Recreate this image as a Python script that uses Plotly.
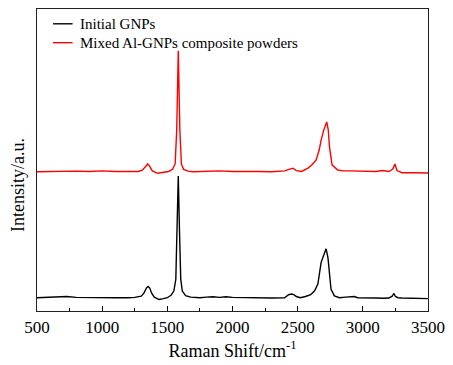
import plotly.graph_objects as go

# Raman shift (cm^-1) and intensity (a.u., stacked) for the initial GNPs
gnp_shift = [500, 600, 700, 728, 800, 900, 1000, 1100, 1200, 1250, 1300, 1320, 1340, 1353, 1365,
             1380, 1400, 1437, 1470, 1500, 1530, 1550, 1565, 1575, 1584, 1593, 1603, 1615, 1640,
             1680, 1750, 1800, 1850, 1900, 1950, 2000, 2100, 2200, 2300, 2400, 2430, 2452, 2470,
             2490, 2520, 2560, 2600, 2630, 2655, 2680, 2700, 2718, 2732, 2744, 2756, 2782, 2820,
             2870, 2900, 2934, 2960, 3000, 3100, 3150, 3200, 3225, 3239, 3250, 3270, 3300, 3400, 3500]
gnp_int = [44, 45, 46, 48, 45, 44, 45, 44, 44, 45, 49, 59, 76, 81, 76,
           59, 46, 38, 41, 44, 53, 66, 105, 270, 447, 270, 105, 66, 51,
           46, 44, 46, 47, 45, 47, 45, 44, 43, 43, 44, 54, 56, 54,
           48, 44, 48, 54, 67, 89, 161, 188, 206, 178, 128, 72, 50, 44,
           46, 48, 48, 44, 43, 43, 42, 43, 49, 58, 48, 44, 43, 42, 41]

# Raman shift (cm^-1) and intensity (a.u., stacked) for the mixed Al-GNPs powders
mix_shift = [500, 600, 700, 800, 900, 1000, 1100, 1200, 1280, 1310, 1330, 1350, 1365, 1385, 1426,
             1470, 1510, 1540, 1560, 1572, 1584, 1596, 1608, 1625, 1660, 1700, 1800, 1900, 2000,
             2100, 2200, 2300, 2400, 2440, 2464, 2490, 2530, 2579, 2610, 2642, 2665, 2680, 2700,
             2723, 2735, 2744, 2764, 2807, 2850, 2900, 3000, 3100, 3150, 3200, 3230, 3246, 3262,
             3300, 3400, 3500]
mix_int = [461, 462, 464, 463, 462, 464, 462, 463, 462, 467, 479, 487, 479, 464, 456,
           459, 462, 469, 487, 599, 862, 599, 487, 469, 463, 461, 463, 464, 462,
           463, 462, 461, 464, 470, 473, 465, 462, 473, 484, 500, 533, 566, 599,
           626, 599, 544, 484, 467, 464, 464, 463, 462, 465, 462, 470, 487, 465,
           458, 458, 457]

series_names = ["Initial GNPs", "Mixed Al-GNPs composite powders"]
series_colors = ["black", "#ff0000"]

x_ticks = [500, 1000, 1500, 2000, 2500, 3000, 3500]

font_family = "Times New Roman"

fig = go.Figure()
for xs, ys, name, color in zip([gnp_shift, mix_shift], [gnp_int, mix_int], series_names, series_colors):
    fig.add_trace(go.Scatter(x=xs, y=ys, mode="lines", name=name,
                             line=dict(color=color, width=1.4), showlegend=False))

# compact legend in the upper-left corner: short line sample + label per series
legend_shapes, legend_notes = [], []
for i, (name, color) in enumerate(zip(series_names, series_colors)):
    ly = 0.951 - i * 0.0625
    legend_shapes.append(dict(type="line", xref="paper", yref="paper",
                              x0=0.041, x1=0.091, y0=ly, y1=ly,
                              line=dict(color=color, width=1.4)))
    legend_notes.append(dict(text=name, xref="paper", yref="paper", x=0.106, y=ly,
                             xanchor="left", yanchor="middle", showarrow=False,
                             font=dict(size=15, family=font_family, color="black")))

fig.update_layout(
    width=453, height=365,
    margin=dict(l=37, r=22, t=8, b=53),
    paper_bgcolor="white", plot_bgcolor="white",
    font=dict(family=font_family, color="black", size=16),
    showlegend=False,
    xaxis=dict(
        range=[500, 3500], tickvals=x_ticks, ticktext=[str(v) for v in x_ticks],
        ticks="inside", ticklen=5, tickwidth=1, tickcolor="black",
        minor=dict(ticks="inside", ticklen=3, tickwidth=1, tickcolor="black", dtick=250, showgrid=False),
        showline=True, linecolor="#222", linewidth=1.3, mirror=True,
        showgrid=False, zeroline=False,
        tickfont=dict(size=17, family=font_family),
        title=dict(text="Raman Shift/cm<sup>-1</sup>", font=dict(size=18, family=font_family), standoff=8),
    ),
    yaxis=dict(
        range=[0, 1000], showticklabels=False, ticks="",
        showline=True, linecolor="#222", linewidth=1.3, mirror=True,
        showgrid=False, zeroline=False,
    ),
    shapes=legend_shapes,
    annotations=legend_notes + [dict(
        text="Intensity/a.u.", xref="paper", yref="paper", x=-0.048, y=0.418,
        xanchor="center", yanchor="middle", textangle=-90, showarrow=False,
        font=dict(size=18, family=font_family, color="black"),
    )],
)

fig.write_html("out.html")
